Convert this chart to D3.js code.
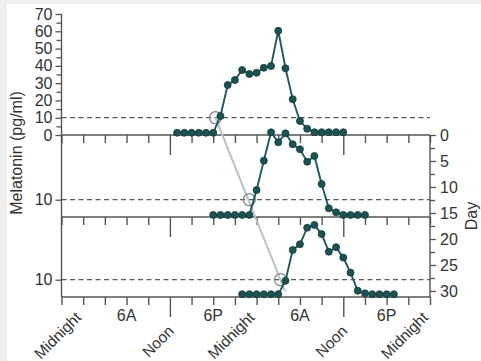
<!DOCTYPE html>
<html><head><meta charset="utf-8">
<script src="https://cdn.jsdelivr.net/npm/d3@7"></script>
<style>
body{margin:0;background:#efefef}
svg{display:block}
text{font-family:"Liberation Sans",Arial,Helvetica,sans-serif;fill:#333}
</style>
</head><body><svg id="c" width="481" height="361"></svg>
<script>
// ---- data (hours from first midnight; melatonin pg/ml) ----
const topHours   = [13,14,15,16,17,18,19,20,21,22,23,24,25,26,27,28,29,30,31,32,33,34,35,36];
const topValues  = [1.3,1.3,1.3,1.3,1.3,1.3,11.0,28.9,31.8,37.6,35.3,36.0,38.9,39.9,60.3,38.6,20.7,8.1,3.6,1.6,1.6,1.6,1.6,1.6];
const midHours   = [18,19,20,21,22,23,24,25,26,27,28,29,30,31,32,33,34,35,36,37,38,39];
const midValues  = [1.2,1.2,1.2,1.2,1.2,1.2,15.6,32.6,49.0,43.2,48.4,42.1,39.2,32.0,35.3,19.1,5.0,2.7,1.2,1.2,1.2,1.2];
const botHours   = [22,23,24,25,26,27,28,29,30,31,32,33,34,35,36,37,38,39,40,41,42,43];
const botValues  = [1.6,1.6,1.6,1.6,1.6,1.6,9.4,27.2,30.5,40.1,41.7,36.4,26.2,28.8,22.8,14.1,3.6,2.1,1.6,1.6,1.6,1.6];
const dlmoHours  = [18.3, 23.0, 27.3];
const threshold  = 10;
const melTicks   = [0,10,20,30,40,50,60,70];
const melMinor   = [5,15,25,35,45,55,65];
const dayTicks   = [0,5,10,15,20,25,30];
const dayMinor   = [2.5,7.5,12.5,17.5,22.5,27.5];
const timeTickHours  = [-3,0,3,6,9,12,15,18,21,24,27,30,33,36,39,42,45,48];
const noonHours      = [12,36];
const timeLabelHours = [0,6,12,18,24,30,36,42,48];
const timeLabels     = ["Midnight","6A","Noon","6P","Midnight","6A","Noon","6P","Midnight"];

// ---- drawing ----
const svg = d3.select("#c");
svg.append("rect").attr("x",7).attr("y",4).attr("width",474).attr("height",357).attr("fill","#fff");

const axisColor = "#555";
const x = d3.scaleLinear().domain([-3,48]).range([61.5,430]);
const panels = [
  {hours: topHours, values: topValues, base: 135},
  {hours: midHours, values: midValues, base: 217},
  {hours: botHours, values: botValues, base: 297}
];
panels.forEach(p => { p.y = d3.scaleLinear().domain([0,70]).range([p.base, p.base - 121]); });
const day = d3.scaleLinear().domain([0,30]).range([135,291]);

// threshold dashed lines
panels.forEach(p => {
  svg.append("line").attr("x1", x(-3)).attr("x2", x(48))
    .attr("y1", p.y(threshold)).attr("y2", p.y(threshold))
    .attr("stroke","#5a5a5a").attr("stroke-width",1.3).attr("stroke-dasharray","5,3.5");
});

// baselines + time ticks
panels.forEach(p => {
  const g = svg.append("g").attr("transform", `translate(0,${p.base})`);
  const ax = d3.axisBottom(x).tickValues(timeTickHours).tickSize(8).tickFormat("");
  g.call(ax);
  g.selectAll(".tick line").filter(d => noonHours.includes(d)).attr("y2", 20);
  g.selectAll("path.domain").attr("d", `M${x(-3)},0H${x(48)}`);
  g.selectAll("path, line").attr("stroke", axisColor).attr("stroke-width",1.4);
});

// left axis line
svg.append("line").attr("x1",61.5).attr("x2",61.5).attr("y1",panels[0].y(70)).attr("y2",297)
  .attr("stroke",axisColor).attr("stroke-width",1.4);

// top panel y ticks
const gTop = svg.append("g").attr("class","ly").attr("transform","translate(61.5,0)");
gTop.call(d3.axisLeft(panels[0].y).tickValues(melTicks).tickSize(6).tickPadding(3));
gTop.append("g").call(d3.axisLeft(panels[0].y).tickValues(melMinor).tickSize(5).tickFormat(""));
[1,2].forEach(i => {
  svg.append("g").attr("class","ly").attr("transform","translate(61.5,0)")
    .call(d3.axisLeft(panels[i].y).tickValues([threshold]).tickSize(6).tickPadding(3));
});
svg.selectAll("g.ly path.domain").remove();
svg.selectAll("g.ly line").attr("stroke",axisColor).attr("stroke-width",1.3);
svg.selectAll("g.ly text").attr("font-size",16).attr("font-family",null).attr("fill","#333");

// right Day axis
const gR = svg.append("g").attr("transform","translate(430,0)");
gR.call(d3.axisRight(day).tickValues(dayTicks).tickSize(6).tickPadding(4));
gR.append("g").call(d3.axisRight(day).tickValues(dayMinor).tickSize(5).tickFormat(""));
gR.selectAll("path.domain").remove();
gR.selectAll("line").attr("stroke",axisColor).attr("stroke-width",1.3);
gR.selectAll("text").attr("font-size",16).attr("font-family",null).attr("fill","#333");
svg.append("line").attr("x1",430).attr("x2",430).attr("y1",135).attr("y2",297)
  .attr("stroke",axisColor).attr("stroke-width",1.4);

// time labels
timeLabelHours.forEach((h,i) => {
  const t = timeLabels[i];
  if (t === "Midnight") {
    svg.append("text").attr("text-anchor","end").attr("font-size",15.5)
      .attr("transform",`translate(${x(h)-1},318.5) rotate(-45)`).text(t);
  } else if (t === "Noon") {
    svg.append("text").attr("text-anchor","end").attr("font-size",15.5)
      .attr("transform",`translate(${x(h)+5},332) rotate(-45)`).text(t);
  } else {
    svg.append("text").attr("text-anchor","middle").attr("font-size",16)
      .attr("x", x(h)).attr("y", 321).text(t);
  }
});

// axis titles
svg.append("text").attr("text-anchor","middle").attr("font-size",16)
  .attr("transform","translate(22,153) rotate(-90)").text("Melatonin (pg/ml)");
svg.append("text").attr("text-anchor","middle").attr("font-size",16)
  .attr("transform","translate(477,216) rotate(-90)").text("Day");

// DLMO regression line + circles
const c = dlmoHours.map((h,i) => [x(h), panels[i].y(threshold)]);
const c0 = c[0], c2 = c[2];
const tEnd = (day(30) - c0[1]) / (c2[1] - c0[1]);
svg.append("line").attr("x1",c0[0]).attr("y1",c0[1])
  .attr("x2", c0[0] + tEnd*(c2[0]-c0[0])).attr("y2", c0[1] + tEnd*(c2[1]-c0[1]))
  .attr("stroke","#b4c3c6").attr("stroke-width",2);
svg.selectAll("circle.dlmo").data(c).join("circle").attr("class","dlmo")
  .attr("cx",d=>d[0]).attr("cy",d=>d[1]).attr("r",6)
  .attr("fill","none").attr("stroke","#888").attr("stroke-width",1.3);

// melatonin profiles
panels.forEach(p => {
  const pts = p.hours.map((h,i) => [h, p.values[i]]);
  svg.append("path").datum(pts)
    .attr("d", d3.line().x(d=>x(d[0])).y(d=>p.y(d[1])))
    .attr("fill","none").attr("stroke","#1f5a5a").attr("stroke-width",1.9);
  svg.append("g").selectAll("circle").data(pts).join("circle")
    .attr("cx",d=>x(d[0])).attr("cy",d=>p.y(d[1])).attr("r",3.5)
    .attr("fill","#1e5252").attr("stroke","#123838").attr("stroke-width",0.8);
});
</script>
</body></html>
